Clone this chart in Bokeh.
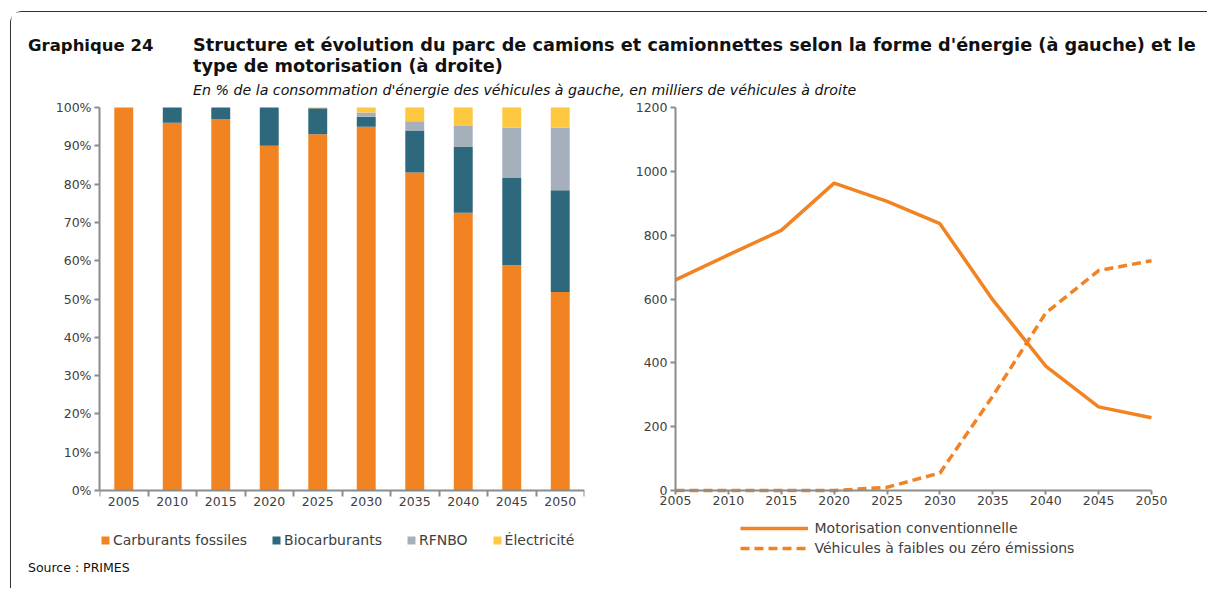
from bokeh.plotting import figure
from bokeh.models import (Range1d, FixedTicker, Legend, LegendItem, Label,
                          ColumnDataSource, PrintfTickFormatter)
from bokeh.layouts import column, row
from bokeh.embed import file_html
from bokeh.resources import INLINE

# ---------------- data ----------------
years = [2005, 2010, 2015, 2020, 2025, 2030, 2035, 2040, 2045, 2050]
# left: % of energy consumption
fossiles = [100, 96, 97, 90, 93, 95, 83, 72.5, 58.8, 51.8]
biocarburants = [0, 4, 3, 10, 6.8, 2.6, 11, 17.2, 22.8, 26.6]
rfnbo = [0, 0, 0, 0, 0, 1.1, 2.4, 5.5, 13.1, 16.3]
electricite = [0, 0, 0, 0, 0.2, 1.3, 3.6, 4.8, 5.3, 5.3]
left_labels = ["Carburants fossiles", "Biocarburants", "RFNBO", "Électricité"]
# right: thousands of vehicles
conventionnelle = [660, 738, 815, 963, 906, 836, 597, 390, 262, 228]
faibles_zero = [0, 0, 0, 0, 10, 55, 296, 556, 689, 720]
right_labels = ["Motorisation conventionnelle", "Véhicules à faibles ou zéro émissions"]
pct_ticks = list(range(0, 101, 10))
veh_ticks = list(range(0, 1201, 200))

# ---------------- styles ----------------
ORANGE = "#F28323"
TEAL = "#2E687D"
GREY = "#A6B0BD"
YELLOW = "#FEC840"
AXIS = "#8C8C8C"
TXT = "#404040"
FONT = "DejaVu Sans"

AXIS_H = 383       # pixel height of the value axes
PAD_TOP = 9        # pixels above the value axis inside the chart row
PAD_BOT = 68       # pixels below the value axis inside the chart row (axis labels + legend)
FRAME_H = PAD_TOP + AXIS_H + PAD_BOT


def style_axes(p):
    for ax in p.axis:
        ax.axis_line_color = AXIS
        ax.axis_line_width = 2
        ax.major_tick_line_color = AXIS
        ax.major_tick_line_width = 2
        ax.major_tick_in = 0
        ax.major_tick_out = 5
        ax.minor_tick_line_color = None
        ax.major_label_text_font = FONT
        ax.major_label_text_font_size = "12.5px"
        ax.major_label_text_color = TXT
    p.xgrid.visible = False
    p.ygrid.visible = False
    p.outline_line_color = None


W = 1196

# ---------------- header ----------------
header = figure(width=W, height=86, x_range=Range1d(0, W), y_range=Range1d(86, 0),
                output_backend="svg", toolbar_location=None, min_border=0)
header.axis.visible = False
header.grid.visible = False
header.outline_line_color = None
header.add_layout(Label(x=16.5, y=32.5, text="Graphique 24", text_font=FONT, text_font_style="bold",
                        text_font_size="16.5px", text_baseline="middle", text_color="#111111"))
header.add_layout(Label(x=181.5, y=32.5,
                        text="Structure et évolution du parc de camions et camionnettes selon la forme d'énergie (à gauche) et le",
                        text_font=FONT, text_font_style="bold", text_font_size="17.7px",
                        text_baseline="middle", text_color="#111111"))
header.add_layout(Label(x=181.5, y=53.5, text="type de motorisation (à droite)",
                        text_font=FONT, text_font_style="bold", text_font_size="17.7px",
                        text_baseline="middle", text_color="#111111"))
header.add_layout(Label(x=181.5, y=77.5,
                        text="En % de la consommation d'énergie des véhicules à gauche, en milliers de véhicules à droite",
                        text_font=FONT, text_font_style="italic", text_font_size="14.2px",
                        text_baseline="middle", text_color="#111111"))

# ---------------- left chart ----------------
src = ColumnDataSource(dict(year=years, f=fossiles, b=biocarburants, r=rfnbo, e=electricite))
left = figure(frame_width=485, frame_height=FRAME_H,
              x_range=Range1d(2002.5, 2052.5),
              y_range=Range1d(-100 * PAD_BOT / AXIS_H, 100 + 100 * PAD_TOP / AXIS_H),
              output_backend="svg", toolbar_location=None,
              min_border_left=88, min_border_right=15, min_border_top=0, min_border_bottom=0)
rs = left.vbar_stack(["f", "b", "r", "e"], x="year", width=1.95, source=src,
                     color=[ORANGE, TEAL, GREY, YELLOW], line_color=None)
style_axes(left)
left.xaxis.fixed_location = 0
left.yaxis.bounds = (0, 100)
left.xaxis.ticker = FixedTicker(ticks=years, minor_ticks=[2002.5 + 5 * i for i in range(11)])
left.xaxis.major_tick_line_color = None
left.xaxis.major_tick_out = 6
left.xaxis.minor_tick_line_color = AXIS
left.xaxis.minor_tick_line_width = 2
left.xaxis.minor_tick_in = 0
left.xaxis.minor_tick_out = 6
left.xaxis.major_label_standoff = 0
left.yaxis.ticker = FixedTicker(ticks=pct_ticks)
left.yaxis.formatter = PrintfTickFormatter(format="%d%%")
left.yaxis.major_label_standoff = 3
leg_l = Legend(items=[LegendItem(label=l, renderers=[r]) for l, r in zip(left_labels, rs)],
               orientation="horizontal", location=(1, 10.5), padding=0, margin=0,
               spacing=24, glyph_width=10, glyph_height=10, label_standoff=3,
               label_text_font=FONT, label_text_font_size="14px", label_text_color=TXT,
               border_line_color=None, background_fill_alpha=0)
left.add_layout(leg_l, "center")

# ---------------- right chart ----------------
PX_PER_YEAR = 476 / 45
EXT_L, EXT_R = 48, 24   # room for the axis labels inside the frame
src2 = ColumnDataSource(dict(year=years, c=conventionnelle, z=faibles_zero))
right = figure(frame_width=476 + EXT_L + EXT_R, frame_height=FRAME_H,
               x_range=Range1d(2005 - EXT_L / PX_PER_YEAR, 2050 + EXT_R / PX_PER_YEAR),
               y_range=Range1d(-1200 * PAD_BOT / AXIS_H, 1200 + 1200 * PAD_TOP / AXIS_H),
               output_backend="svg", toolbar_location=None,
               min_border_left=28, min_border_right=31, min_border_top=0, min_border_bottom=0)
r1 = right.line("year", "c", source=src2, line_color=ORANGE, line_width=3.5)
r2 = right.line("year", "z", source=src2, line_color=ORANGE, line_width=3.5, line_dash="9 5")
style_axes(right)
right.xaxis.fixed_location = 0
right.yaxis.fixed_location = 2005
right.xaxis.bounds = (2005, 2050)
right.yaxis.bounds = (0, 1200)
right.xaxis.ticker = FixedTicker(ticks=years)
right.xaxis.major_tick_out = 4
right.xaxis.major_label_standoff = 1
right.yaxis.ticker = FixedTicker(ticks=veh_ticks)
right.yaxis.major_label_standoff = 3
leg_r = Legend(items=[LegendItem(label=right_labels[0], renderers=[r1]),
                      LegendItem(label=right_labels[1], renderers=[r2])],
               orientation="vertical", location=(112.5, 2.5), padding=0, margin=0,
               spacing=4, glyph_width=68, glyph_height=10, label_standoff=7,
               label_text_font=FONT, label_text_font_size="14px", label_text_color=TXT,
               border_line_color=None, background_fill_alpha=0)
right.add_layout(leg_r, "center")

# ---------------- footer ----------------
footer = figure(width=W, height=30, x_range=Range1d(0, W), y_range=Range1d(30, 0),
                output_backend="svg", toolbar_location=None, min_border=0)
footer.axis.visible = False
footer.grid.visible = False
footer.outline_line_color = None
footer.add_layout(Label(x=16.5, y=8.5, text="Source : PRIMES", text_font=FONT,
                        text_font_size="12.5px", text_baseline="middle", text_color="#111111"))

layout = column(header, row(left, right), footer,
                styles={"margin-left": "10px", "margin-top": "11px",
                        "border-top": "1.5px solid #333333", "border-left": "1.5px solid #333333",
                        "border-top-left-radius": "12px"})

open("out.html", "w").write(file_html(layout, INLINE))
